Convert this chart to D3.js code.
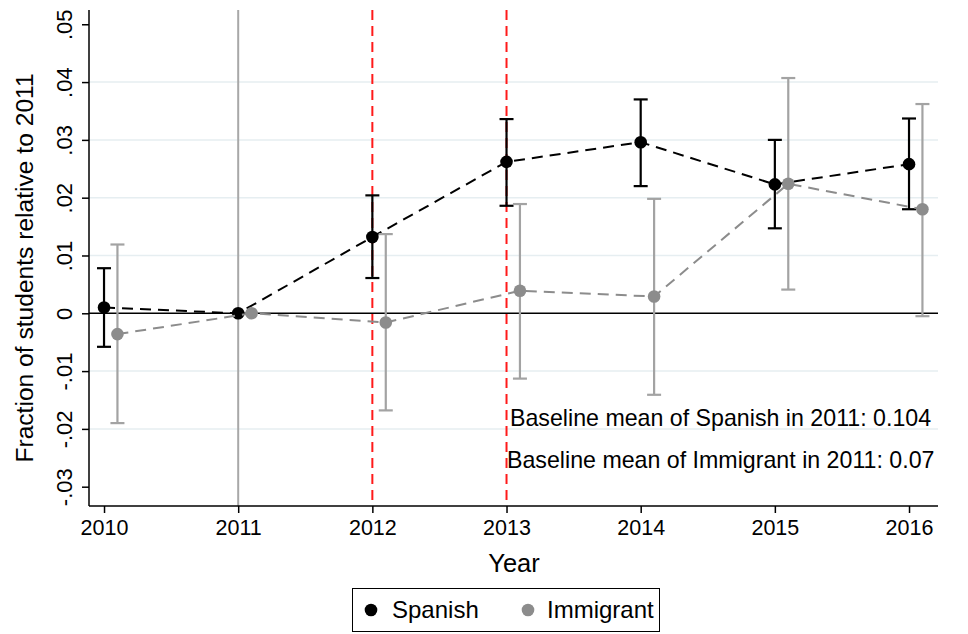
<!DOCTYPE html>
<html><head><meta charset="utf-8">
<script src="https://cdn.jsdelivr.net/npm/d3@7"></script>
<style>body{margin:0;background:#fff}svg{display:block}text{font-family:"Liberation Sans",Arial,Helvetica,sans-serif}</style>
</head><body><svg id="c" width="968" height="634"></svg>
<script>
const years = [2010, 2011, 2012, 2013, 2014, 2015, 2016];
const spanish = [0.001, 0, 0.0132, 0.0262, 0.0296, 0.0223, 0.0258];
const spanishLo = [-0.0058, null, 0.0061, 0.0186, 0.0220, 0.0147, 0.0180];
const spanishHi = [0.0078, null, 0.0204, 0.0336, 0.0370, 0.0300, 0.0337];
const immigrant = [-0.0036, 0, -0.0016, 0.0039, 0.0029, 0.0224, 0.0180];
const immigrantLo = [-0.0190, null, -0.0168, -0.0113, -0.0141, 0.0041, -0.0005];
const immigrantHi = [0.0119, null, 0.0137, 0.0189, 0.0198, 0.0407, 0.0362];
const yTicks = [-0.03, -0.02, -0.01, 0, 0.01, 0.02, 0.03, 0.04, 0.05];
const yTickLabels = ["-.03", "-.02", "-.01", "0", ".01", ".02", ".03", ".04", ".05"];
const refYear = 2011;
const policyYears = [2012, 2013];
const notes = ["Baseline mean of Spanish in 2011: 0.104", "Baseline mean of Immigrant in 2011: 0.07"];

const svg = d3.select("#c");
const L = 89, R = 938, T = 10, B = 506;
const x = d3.scaleLinear().domain([2009.888, 2016.216]).range([L, R]);
const y = d3.scaleLinear().domain([-0.03334, 0.05247]).range([B, T]);
const off = 0.1;

// gridlines
svg.append("g").selectAll("line").data(yTicks.filter(v => v !== 0 && v > -0.025 && v < 0.045)).join("line")
  .attr("x1", L).attr("x2", R).attr("y1", d => y(d)).attr("y2", d => y(d))
  .attr("stroke", "#e6eef1").attr("stroke-width", 1.5);

// reference lines
svg.append("line").attr("x1", x(refYear)).attr("x2", x(refYear)).attr("y1", T).attr("y2", B)
  .attr("stroke", "#a8a8a8").attr("stroke-width", 2);
svg.append("g").selectAll("line").data(policyYears).join("line")
  .attr("x1", d => x(d)).attr("x2", d => x(d)).attr("y1", T).attr("y2", B)
  .attr("stroke", "#ff1a1a").attr("stroke-width", 2).attr("stroke-dasharray", "10,6");
svg.append("line").attr("x1", L).attr("x2", R).attr("y1", y(0)).attr("y2", y(0))
  .attr("stroke", "#000").attr("stroke-width", 1.6);

// axes
const yAxis = svg.append("g").attr("transform", `translate(${L},0)`)
  .call(d3.axisLeft(y).tickValues(yTicks).tickSize(7).tickFormat((d, i) => yTickLabels[i]));
yAxis.select(".domain").attr("d", `M0,${T}V${B}`).attr("stroke-width", 1.5);
yAxis.selectAll(".tick line").attr("stroke-width", 1.5);
yAxis.selectAll(".tick text").attr("font-size", 22).attr("fill", "#000")
  .attr("transform", "rotate(-90)").attr("x", 0).attr("y", -17).attr("dy", 0)
  .attr("text-anchor", "middle");

const xAxis = svg.append("g").attr("transform", `translate(0,${B})`)
  .call(d3.axisBottom(x).tickValues(years).tickSize(7).tickFormat(d3.format("d")));
xAxis.select(".domain").attr("d", `M${L},0H${R}`).attr("stroke-width", 1.5);
xAxis.selectAll(".tick line").attr("stroke-width", 1.5);
xAxis.selectAll(".tick text").attr("font-size", 21.5).attr("fill", "#000").attr("y", 29).attr("dy", 0);

// titles
svg.append("text").attr("x", 514).attr("y", 572).attr("text-anchor", "middle").attr("font-size", 25.5).text("Year");
svg.append("text").attr("transform", `translate(33,${(T + B) / 2 + 10}) rotate(-90)`).attr("text-anchor", "middle")
  .attr("font-size", 24.6).text("Fraction of students relative to 2011");

function series(vals, lo, hi, dx, color, barColor) {
  const pts = years.map((yr, i) => ({yr: yr + dx, v: vals[i], lo: lo[i], hi: hi[i]}));
  svg.append("path").datum(pts).attr("fill", "none").attr("stroke", color).attr("stroke-width", 2)
    .attr("stroke-dasharray", "11,7")
    .attr("d", d3.line().x(d => x(d.yr)).y(d => y(d.v)));
  const g = svg.append("g").attr("stroke", barColor).attr("stroke-width", 2.2);
  const ci = pts.filter(d => d.lo !== null);
  g.selectAll(".v").data(ci).join("line").attr("x1", d => x(d.yr)).attr("x2", d => x(d.yr))
    .attr("y1", d => y(d.lo)).attr("y2", d => y(d.hi));
  g.selectAll(".t").data(ci).join("line").attr("x1", d => x(d.yr) - 7).attr("x2", d => x(d.yr) + 7)
    .attr("y1", d => y(d.hi)).attr("y2", d => y(d.hi));
  g.selectAll(".b").data(ci).join("line").attr("x1", d => x(d.yr) - 7).attr("x2", d => x(d.yr) + 7)
    .attr("y1", d => y(d.lo)).attr("y2", d => y(d.lo));
  svg.append("g").selectAll("circle").data(pts).join("circle")
    .attr("cx", d => x(d.yr)).attr("cy", d => y(d.v)).attr("r", 6.3).attr("fill", color);
}
series(spanish, spanishLo, spanishHi, 0, "#000", "#000");
series(immigrant, immigrantLo, immigrantHi, off, "#8c8c8c", "#a3a3a3");

// notes
svg.append("text").attr("x", 510).attr("y", 426).attr("font-size", 23.2).text(notes[0]);
svg.append("text").attr("x", 507).attr("y", 468).attr("font-size", 23.2).text(notes[1]);

// legend
const lg = svg.append("g");
lg.append("rect").attr("x", 352.5).attr("y", 588.5).attr("width", 307).attr("height", 43)
  .attr("fill", "#fff").attr("stroke", "#000").attr("stroke-width", 1);
const legendItems = [{name: "Spanish", color: "#000", cx: 371, tx: 392}, {name: "Immigrant", color: "#8c8c8c", cx: 528, tx: 547}];
legendItems.forEach(it => {
  lg.append("circle").attr("cx", it.cx).attr("cy", 610).attr("r", 6.3).attr("fill", it.color);
  lg.append("text").attr("x", it.tx).attr("y", 618).attr("font-size", 24).text(it.name);
});
</script></body></html>
